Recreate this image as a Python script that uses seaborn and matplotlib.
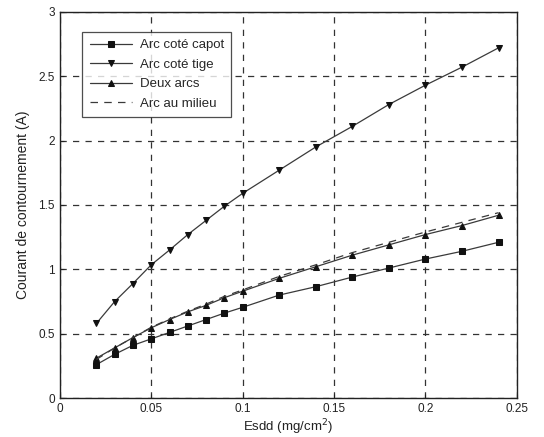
import numpy as np
import pandas as pd
import matplotlib
matplotlib.use("Agg")
import matplotlib.pyplot as plt
import seaborn as sns

esdd = [0.02, 0.03, 0.04, 0.05, 0.06, 0.07, 0.08, 0.09, 0.10,
        0.12, 0.14, 0.16, 0.18, 0.20, 0.22, 0.24]
arc_capot = [0.26, 0.34, 0.41, 0.46, 0.51, 0.56, 0.61, 0.66, 0.705,
             0.80, 0.865, 0.94, 1.01, 1.08, 1.14, 1.21]
arc_tige = [0.58, 0.75, 0.89, 1.035, 1.15, 1.27, 1.38, 1.49, 1.59,
            1.77, 1.95, 2.11, 2.28, 2.43, 2.57, 2.72]
deux_arcs = [0.31, 0.39, 0.47, 0.546, 0.61, 0.67, 0.72, 0.78, 0.83,
             0.93, 1.02, 1.11, 1.19, 1.27, 1.34, 1.42]
arc_milieu = [0.30, 0.39, 0.47, 0.55, 0.615, 0.675, 0.73, 0.79, 0.84,
              0.945, 1.035, 1.13, 1.21, 1.29, 1.365, 1.44]

labels = ["Arc coté capot", "Arc coté tige", "Deux arcs", "Arc au milieu"]
series = [arc_capot, arc_tige, deux_arcs, arc_milieu]

df = pd.concat(
    [pd.DataFrame({"Esdd": esdd, "I": vals, "Série": lab})
     for lab, vals in zip(labels, series)],
    ignore_index=True,
)

sns.set_style("white")
plt.rcParams["font.family"] = ["Liberation Sans", "DejaVu Sans"]

fig = plt.figure(figsize=(5.44, 4.37), dpi=100)
ax = fig.add_axes([0.110, 0.089, 0.840, 0.884])

styles = {
    "Arc coté capot": dict(marker="s", markersize=5, linestyle="-"),
    "Arc coté tige": dict(marker="v", markersize=4.2, linestyle="-"),
    "Deux arcs": dict(marker="^", markersize=4.2, linestyle="-"),
    "Arc au milieu": dict(marker=None, linestyle=(0, (6, 5))),
}

for lab in labels:
    sub = df[df["Série"] == lab]
    st = styles[lab]
    sns.lineplot(data=sub, x="Esdd", y="I", ax=ax, color="#3a3a3a",
                 linewidth=0.9, label=lab, marker=st["marker"],
                 markersize=st.get("markersize", 0), linestyle=st["linestyle"],
                 markeredgecolor="#111111", markerfacecolor="#111111",
                 estimator=None, sort=False)

ax.set_xlim(0, 0.25)
ax.set_ylim(0, 3)
ax.set_xticks([0, 0.05, 0.1, 0.15, 0.2, 0.25])
ax.set_xticklabels(["0", "0.05", "0.1", "0.15", "0.2", "0.25"])
ax.set_yticks([0, 0.5, 1, 1.5, 2, 2.5, 3])
ax.set_yticklabels(["0", "0.5", "1", "1.5", "2", "2.5", "3"])

ax.grid(True, color="#333333", linestyle=(0, (5, 5)), linewidth=0.9)
for sp in ax.spines.values():
    sp.set_color("#222222")
    sp.set_linewidth(1.0)
ax.tick_params(axis="both", labelsize=8.5, colors="#222222", direction="in",
               length=3, bottom=True, left=True)

ax.set_xlabel("Esdd (mg/cm$^2$)", fontsize=9.5, color="#222222", labelpad=2)
ax.set_ylabel("Courant de contournement (A)", fontsize=10, color="#222222",
              labelpad=6)

leg = ax.legend(loc="upper left", bbox_to_anchor=(0.035, 0.965), fontsize=9.5,
                frameon=True, fancybox=False, handlelength=3.2,
                borderpad=0.55, labelspacing=0.55, handletextpad=0.6)
leg.get_frame().set_edgecolor("#222222")
leg.get_frame().set_linewidth(0.9)

fig.savefig("out.png", dpi=100, facecolor="white")
